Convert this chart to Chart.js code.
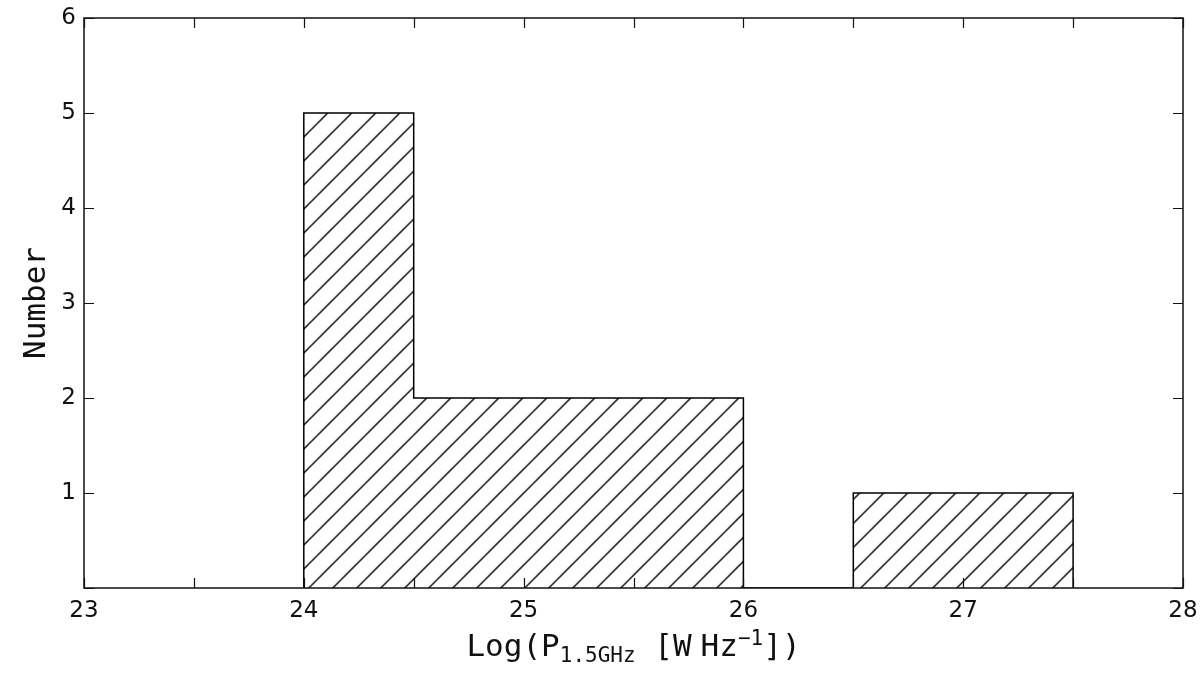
<!DOCTYPE html>
<html>
<head>
<meta charset="utf-8">
<script src="https://cdn.jsdelivr.net/npm/chart.js@4/dist/chart.umd.min.js"></script>
<style>
  html, body { margin: 0; padding: 0; background: #fff; }
  #wrap { width: 1200px; height: 675px; }
</style>
</head>
<body>
<div id="wrap"><canvas id="histChart" width="1200" height="675"></canvas></div>
<script>
"use strict";

/* ---------- data ---------- */
const binEdges = [24.0, 24.5, 25.0, 25.5, 26.0, 26.5, 27.0, 27.5];
const counts = [5, 2, 2, 2, 0, 1, 1];
const xRange = [23, 28];
const yRange = [0, 6];
const xTickStep = 0.5;   // minor + major ticks, labels only on integers
const yTickStep = 1;

const INK = "#111";
const MONO = "'DejaVu Sans Mono', monospace";
const SANS = "'DejaVu Sans', sans-serif";

// step outline built from the histogram bins (matplotlib histtype="step")
function stepPoints() {
  const pts = [{ x: binEdges[0], y: 0 }];
  binEdges.forEach((e, i) => {
    pts.push({ x: e, y: i < counts.length ? counts[i] : 0 });
  });
  return pts;
}

/* ---------- hatch pattern ---------- */
function makeHatch(ctx) {
  const s = 24;
  const tile = document.createElement("canvas");
  tile.width = s; tile.height = s;
  const t = tile.getContext("2d");
  t.strokeStyle = "#000";
  t.lineWidth = 1.4;
  t.beginPath();
  t.moveTo(-2, s + 2); t.lineTo(s + 2, -2);
  t.moveTo(-2, 2); t.lineTo(2, -2);
  t.moveTo(s - 2, s + 2); t.lineTo(s + 2, s - 2);
  t.stroke();
  const p = ctx.createPattern(tile, "repeat");
  p.setTransform(new DOMMatrix().translate(8.7, 0));
  return p;
}

/* ---------- frame, inward ticks, axis titles ---------- */
const framePlugin = {
  id: "frame",
  afterDraw(chart) {
    const { ctx, chartArea: a, scales } = chart;
    const len = 10;
    ctx.save();
    ctx.strokeStyle = INK;
    ctx.lineWidth = 1.5;
    ctx.strokeRect(a.left, a.top, a.right - a.left, a.bottom - a.top);

    ctx.lineWidth = 1.2;
    ctx.beginPath();
    scales.x.ticks.forEach(t => {
      const px = Math.round(scales.x.getPixelForValue(t.value)) + 0.5;
      ctx.moveTo(px, a.bottom); ctx.lineTo(px, a.bottom - len);
      ctx.moveTo(px, a.top); ctx.lineTo(px, a.top + len);
    });
    scales.y.ticks.forEach(t => {
      const py = Math.round(scales.y.getPixelForValue(t.value)) + 0.5;
      ctx.moveTo(a.left, py); ctx.lineTo(a.left + len, py);
      ctx.moveTo(a.right, py); ctx.lineTo(a.right - len, py);
    });
    ctx.stroke();

    // y title
    ctx.fillStyle = INK;
    ctx.font = "31px " + MONO;
    ctx.textAlign = "center";
    ctx.textBaseline = "alphabetic";
    ctx.translate(45, (a.top + a.bottom) / 2);
    ctx.rotate(-Math.PI / 2);
    ctx.fillText("Number", 0, 0);
    ctx.restore();

    // x title with sub/superscript pieces
    const parts = [
      { s: "Log(P", size: 31, dy: 0 },
      { s: "1.5GHz", size: 21, dy: 6 },
      { s: " [W", size: 31, dy: 0 },
      { s: "Hz", size: 31, dy: 0, gap: 9 },
      { s: "\u22121", size: 21, dy: -11 },
      { s: "])", size: 31, dy: 0 }
    ];
    ctx.save();
    ctx.fillStyle = INK;
    ctx.textAlign = "left";
    ctx.textBaseline = "alphabetic";
    let total = 0;
    parts.forEach(p => {
      ctx.font = p.size + "px " + MONO;
      p.w = ctx.measureText(p.s).width;
      total += p.w + (p.gap || 0);
    });
    let x = (a.left + a.right) / 2 - total / 2;
    const base = 656;
    parts.forEach(p => {
      x += p.gap || 0;
      ctx.font = p.size + "px " + MONO;
      ctx.fillText(p.s, x, base + p.dy);
      x += p.w;
    });
    ctx.restore();
  }
};

/* ---------- chart ---------- */
const canvas = document.getElementById("histChart");
const hatch = makeHatch(canvas.getContext("2d"));

new Chart(canvas, {
  type: "line",
  data: {
    datasets: [{
      data: stepPoints(),
      stepped: "before",
      fill: "origin",
      backgroundColor: hatch,
      borderColor: "#000",
      borderWidth: 1.5,
      pointRadius: 0,
      tension: 0
    }]
  },
  plugins: [framePlugin],
  options: {
    responsive: false,
    animation: false,
    layout: { padding: { left: 0, top: 18, right: 17, bottom: 0 } },
    plugins: { legend: { display: false }, tooltip: { enabled: false } },
    scales: {
      x: {
        type: "linear",
        min: xRange[0],
        max: xRange[1],
        grid: { display: false },
        border: { display: false },
        afterFit: s => { s.height = 87; s.paddingLeft = 0; s.paddingRight = 0; },
        ticks: {
          stepSize: xTickStep,
          autoSkip: false,
          maxRotation: 0,
          padding: 1,
          color: INK,
          font: { family: SANS, size: 23 },
          callback: v => (Number.isInteger(v) ? String(v) : "")
        }
      },
      y: {
        min: yRange[0],
        max: yRange[1],
        grid: { display: false },
        border: { display: false },
        afterFit: s => { s.width = 84; s.paddingTop = 0; s.paddingBottom = 0; },
        ticks: {
          stepSize: yTickStep,
          padding: 0,
          color: INK,
          font: { family: SANS, size: 23 },
          callback: v => (v === 0 ? "" : String(v))
        }
      }
    }
  }
});
</script>
</body>
</html>
